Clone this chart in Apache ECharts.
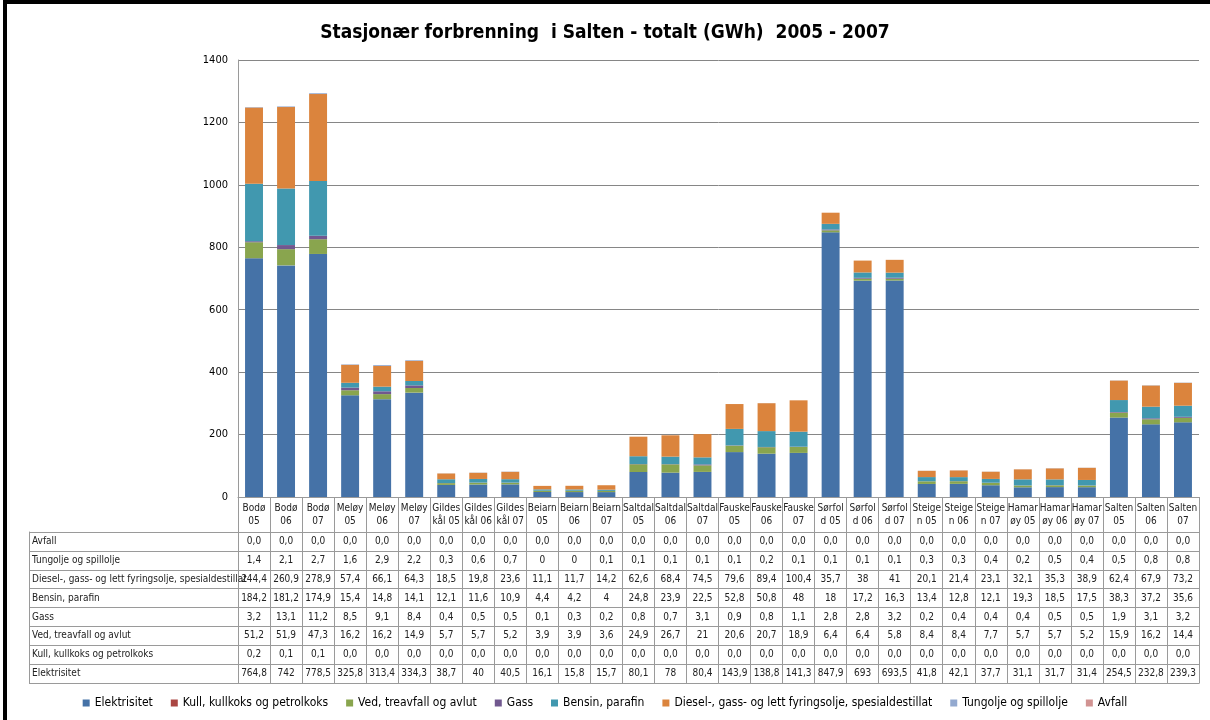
<!DOCTYPE html>
<html>
<head>
<meta charset="utf-8">
<script src="https://cdn.jsdelivr.net/npm/echarts@6/dist/echarts.min.js"></script>
<style>
  html, body { margin: 0; padding: 0; background: #fff; }
  #chart { width: 1210px; height: 720px; }
  .frame {
    position: absolute; left: 3px; top: 0; width: 1207px; height: 720px;
    border-left: 4px solid #000; border-top: 4px solid #000;
    box-sizing: border-box; pointer-events: none;
  }
</style>
</head>
<body>
<div id="chart"></div>
<div class="frame"></div>
<script>
const categories = [
  'Bodø\n05', 'Bodø\n06', 'Bodø\n07', 'Meløy\n05', 'Meløy\n06', 'Meløy\n07',
  'Gildes\nkål 05', 'Gildes\nkål 06', 'Gildes\nkål 07', 'Beiarn\n05', 'Beiarn\n06', 'Beiarn\n07',
  'Saltdal\n05', 'Saltdal\n06', 'Saltdal\n07', 'Fauske\n05', 'Fauske\n06', 'Fauske\n07',
  'Sørfol\nd 05', 'Sørfol\nd 06', 'Sørfol\nd 07', 'Steige\nn 05', 'Steige\nn 06', 'Steige\nn 07',
  'Hamar\nøy 05', 'Hamar\nøy 06', 'Hamar\nøy 07', 'Salten\n05', 'Salten\n06', 'Salten\n07'
]

const elektrisitet = [764.8, 742, 778.5, 325.8, 313.4, 334.3, 38.7, 40, 40.5, 16.1, 15.8, 15.7,
  80.1, 78, 80.4, 143.9, 138.8, 141.3, 847.9, 693, 693.5, 41.8, 42.1, 37.7, 31.1, 31.7, 31.4,
  254.5, 232.8, 239.3]
const kull = [0.2, 0.1, 0.1, 0, 0, 0, 0, 0, 0, 0, 0, 0, 0, 0, 0, 0, 0, 0, 0, 0, 0, 0, 0, 0,
  0, 0, 0, 0, 0, 0]
const ved = [51.2, 51.9, 47.3, 16.2, 16.2, 14.9, 5.7, 5.7, 5.2, 3.9, 3.9, 3.6, 24.9, 26.7, 21,
  20.6, 20.7, 18.9, 6.4, 6.4, 5.8, 8.4, 8.4, 7.7, 5.7, 5.7, 5.2, 15.9, 16.2, 14.4]
const gass = [3.2, 13.1, 11.2, 8.5, 9.1, 8.4, 0.4, 0.5, 0.5, 0.1, 0.3, 0.2, 0.8, 0.7, 3.1,
  0.9, 0.8, 1.1, 2.8, 2.8, 3.2, 0.2, 0.4, 0.4, 0.4, 0.5, 0.5, 1.9, 3.1, 3.2]
const bensin = [184.2, 181.2, 174.9, 15.4, 14.8, 14.1, 12.1, 11.6, 10.9, 4.4, 4.2, 4, 24.8, 23.9,
  22.5, 52.8, 50.8, 48, 18, 17.2, 16.3, 13.4, 12.8, 12.1, 19.3, 18.5, 17.5, 38.3, 37.2, 35.6]
const diesel = [244.4, 260.9, 278.9, 57.4, 66.1, 64.3, 18.5, 19.8, 23.6, 11.1, 11.7, 14.2, 62.6,
  68.4, 74.5, 79.6, 89.4, 100.4, 35.7, 38, 41, 20.1, 21.4, 23.1, 32.1, 35.3, 38.9, 62.4, 67.9, 73.2]
const tungolje = [1.4, 2.1, 2.7, 1.6, 2.9, 2.2, 0.3, 0.6, 0.7, 0, 0, 0.1, 0.1, 0.1, 0.1, 0.1,
  0.2, 0.1, 0.1, 0.1, 0.1, 0.3, 0.3, 0.4, 0.2, 0.5, 0.4, 0.5, 0.8, 0.8]
const avfall = [0, 0, 0, 0, 0, 0, 0, 0, 0, 0, 0, 0, 0, 0, 0, 0, 0, 0, 0, 0, 0, 0, 0, 0,
  0, 0, 0, 0, 0, 0]

const yTicks = { min: 0, max: 1400, interval: 200 }

// stack order, bottom to top (also legend order)
const seriesDefs = [
  { name: 'Elektrisitet', data: elektrisitet, color: '#4572A7', fixed: false },
  { name: 'Kull, kullkoks og petrolkoks', data: kull, color: '#AA4643', fixed: true },
  { name: 'Ved, treavfall og avlut', data: ved, color: '#89A54E', fixed: false },
  { name: 'Gass', data: gass, color: '#71588F', fixed: false },
  { name: 'Bensin, parafin', data: bensin, color: '#4198AF', fixed: false },
  { name: 'Diesel-, gass- og lett fyringsolje, spesialdestillat', data: diesel, color: '#DB843D', fixed: false },
  { name: 'Tungolje og spillolje', data: tungolje, color: '#93A9CF', fixed: false },
  { name: 'Avfall', data: avfall, color: '#D19392', fixed: true },
]

// table rows go top to bottom in reverse stack order
const tableRows = seriesDefs.slice().reverse()
const rowNames = tableRows.map((s) => s.name)

const fmt = (v, fixed) => (fixed ? v.toFixed(1) : String(v)).replace('.', ',')

const cellData = []
const cellText = []
tableRows.forEach((row, r) => {
  row.data.forEach((v, c) => {
    cellData.push([c, r])
    cellText.push(fmt(v, row.fixed))
  })
})

const FONT = "'Liberation Sans Narrow', 'DejaVu Sans Condensed', sans-serif"
const LINE = '#9a9a9a'

const chart = echarts.init(document.getElementById('chart'))

chart.setOption({
  backgroundColor: '#ffffff',
  animation: false,
  textStyle: { fontFamily: FONT },
  title: {
    text: 'Stasjonær forbrenning  i Salten - totalt (GWh)  2005 - 2007',
    left: 'center',
    top: 19,
    textStyle: { fontFamily: FONT, fontSize: 19, fontWeight: 'bold', color: '#000' },
  },
  legend: {
    bottom: 6,
    left: 'center',
    itemWidth: 7,
    itemHeight: 7,
    itemGap: 18,
    icon: 'rect',
    textStyle: { fontFamily: FONT, fontSize: 12, color: '#000' },
    data: seriesDefs.map((s) => s.name),
  },
  grid: [
    { left: 238, right: 11, top: 60, height: 437 },
    { left: 238, right: 11, top: 532, height: 151 },
  ],
  xAxis: [
    {
      gridIndex: 0,
      type: 'category',
      data: categories,
      axisLine: { lineStyle: { color: LINE } },
      axisTick: { show: true, interval: 0, length: 35, lineStyle: { color: LINE } },
      axisLabel: {
        interval: 0,
        fontSize: 10,
        lineHeight: 13,
        margin: 5,
        color: '#222',
        fontFamily: FONT,
      },
    },
    {
      gridIndex: 1,
      type: 'category',
      data: categories,
      axisLine: { show: true, lineStyle: { color: LINE } },
      axisTick: { show: false },
      axisLabel: { show: false },
      splitLine: { show: true, interval: 0, lineStyle: { color: LINE } },
    },
  ],
  yAxis: [
    {
      gridIndex: 0,
      type: 'value',
      min: yTicks.min,
      max: yTicks.max,
      interval: yTicks.interval,
      axisLine: { show: true, lineStyle: { color: LINE } },
      axisTick: { show: false },
      axisLabel: {
        fontSize: 11,
        color: '#000',
        margin: 10,
        fontFamily: FONT,
        formatter: (v) => String(v),
      },
      splitLine: { lineStyle: { color: '#868686' } },
    },
    {
      gridIndex: 1,
      type: 'category',
      inverse: true,
      data: rowNames,
      axisLine: { show: true, lineStyle: { color: LINE } },
      axisTick: { show: true, interval: 0, length: 209, lineStyle: { color: LINE } },
      axisLabel: {
        interval: 0,
        align: 'left',
        margin: 206,
        fontSize: 10,
        color: '#222',
        fontFamily: FONT,
      },
      splitLine: { show: true, interval: 0, lineStyle: { color: LINE } },
    },
    {
      gridIndex: 1,
      type: 'category',
      inverse: true,
      data: rowNames,
      position: 'left',
      offset: 209,
      axisLine: { show: true, lineStyle: { color: LINE } },
      axisTick: { show: false },
      axisLabel: { show: false },
    },
    {
      gridIndex: 1,
      type: 'category',
      inverse: true,
      data: rowNames,
      position: 'right',
      axisLine: { show: true, lineStyle: { color: LINE } },
      axisTick: { show: false },
      axisLabel: { show: false },
    },
  ],
  series: [
    ...seriesDefs.map((s) => ({
      name: s.name,
      type: 'bar',
      stack: 'total',
      xAxisIndex: 0,
      yAxisIndex: 0,
      barWidth: '56%',
      itemStyle: { color: s.color },
      data: s.data,
    })),
    {
      type: 'custom',
      xAxisIndex: 1,
      yAxisIndex: 1,
      silent: true,
      data: cellData,
      renderItem: (params, api) => {
        const p = api.coord([api.value(0), api.value(1)])
        return {
          type: 'text',
          x: p[0],
          y: p[1],
          style: {
            text: cellText[params.dataIndex],
            align: 'center',
            verticalAlign: 'middle',
            fontSize: 10,
            fontFamily: FONT,
            fill: '#222',
          },
        }
      },
    },
  ],
})
</script>
</body>
</html>
